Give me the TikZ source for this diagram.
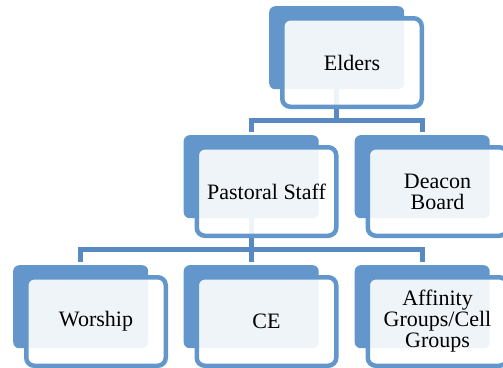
\documentclass[tikz,border=0pt]{standalone}
\usepackage{fontspec}
\setmainfont{Liberation Serif}
\definecolor{boxblue}{RGB}{99,151,203}
\definecolor{linkblue}{RGB}{88,137,192}
\tikzset{
	backbox/.style={rectangle,rounded corners=6pt,fill=boxblue,minimum width=135pt,minimum height=83pt,inner sep=0pt,anchor=north west},
	frontbox/.style={rectangle,rounded corners=8pt,draw=boxblue,line width=4.5pt,fill=white,fill opacity=0.9,text opacity=1,
		minimum width=139.5pt,minimum height=88.5pt,inner sep=0pt,anchor=north west,align=center,font=\fontsize{22}{21}\selectfont},
	link/.style={draw=linkblue,line width=5pt,shorten >=3pt}
}
\begin{document}
\begin{tikzpicture}[x=1pt,y=-1pt]
	\useasboundingbox (0,0) rectangle (503,367);
		\node[backbox] (eldersB) at (269,6) {};
		\node[backbox] (pastoralB) at (183.5,135) {};
		\node[backbox] (deaconB) at (354.5,135) {};
		\node[backbox] (worshipB) at (13,265) {};
		\node[backbox] (ceB) at (183.5,265) {};
		\node[backbox] (affinityB) at (354.5,265) {};
			\draw[link] (eldersB.south) -- ++(0,31.5) -| (pastoralB.north);
			\draw[link] (eldersB.south) -- ++(0,31.5) -| (deaconB.north);
			\draw[link] (pastoralB.south) -- ++(0,31.5) -| (worshipB.north);
			\draw[link] (pastoralB.south) -- ++(0,31.5) -| (affinityB.north);
			\draw[link] (pastoralB.south) -- (ceB.north);
				\node[frontbox] (elders) at ([shift={(11,10)}]eldersB.north west) {Elders};
				\node[frontbox] (pastoral) at ([shift={(11,10)}]pastoralB.north west) {Pastoral Staff};
				\node[frontbox] (deacon) at ([shift={(11,10)}]deaconB.north west) {Deacon\\Board};
				\node[frontbox] (worship) at ([shift={(11,10)}]worshipB.north west) {Worship};
				\node[frontbox] (ce) at ([shift={(11,10)}]ceB.north west) {CE};
				\node[frontbox] (affinity) at ([shift={(11,10)}]affinityB.north west) {Affinity\\Groups/Cell\\Groups};
\end{tikzpicture}
\end{document}
